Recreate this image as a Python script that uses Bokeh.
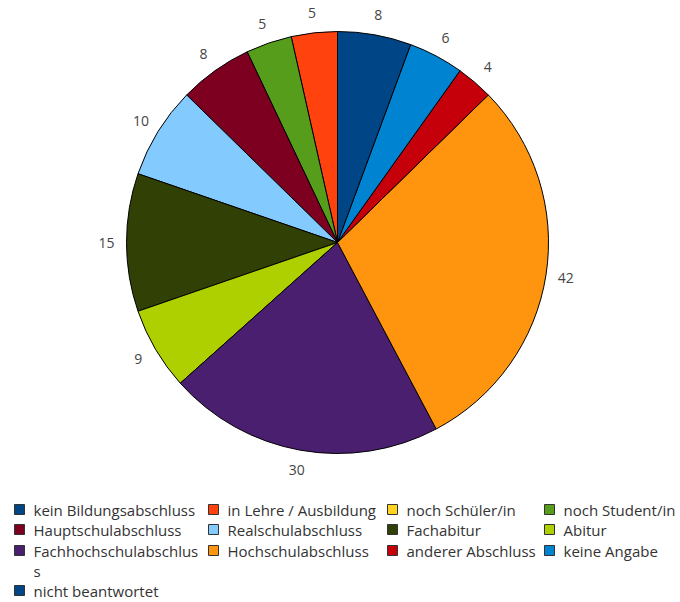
import numpy as np
from bokeh.plotting import figure
from bokeh.models import Range1d, ColumnDataSource
from bokeh.core.properties import value
from bokeh.embed import file_html
from bokeh.resources import INLINE

categories = ["kein Bildungsabschluss", "in Lehre / Ausbildung", "noch Schüler/in", "noch Student/in",
              "Hauptschulabschluss", "Realschulabschluss", "Fachabitur", "Abitur",
              "Fachhochschulabschluss", "Hochschulabschluss", "anderer Abschluss", "keine Angabe",
              "nicht beantwortet"]
counts = [0, 5, 0, 5, 8, 10, 15, 9, 30, 42, 4, 6, 8]
colors = ["#004586", "#ff420e", "#ffd320", "#579d1c", "#7e0021", "#83caff", "#314004",
          "#aecf00", "#4b1f6f", "#ff950e", "#c5000b", "#0084d1", "#004586"]
legend_texts = ["kein Bildungsabschluss", "in Lehre / Ausbildung", "noch Schüler/in", "noch Student/in",
                "Hauptschulabschluss", "Realschulabschluss", "Fachabitur", "Abitur",
                "Fachhochschulabschlus\ns", "Hochschulabschluss", "anderer Abschluss", "keine Angabe",
                "nicht beantwortet"]

FONT = "Open Sans"
W, H = 680, 600
TOP = 602
p = figure(width=W, height=H, output_backend="svg", toolbar_location=None,
           x_range=Range1d(0, W), y_range=Range1d(TOP - H, TOP),
           min_border=0, outline_line_color=None)
p.axis.visible = False
p.grid.visible = False
p.background_fill_color = "white"

# pie
cx, cy, r = 337, TOP - 242, 211
vals = np.array(counts, dtype=float)
total = vals.sum()
cum = np.concatenate([[0], np.cumsum(vals)])
start = np.pi / 2 + cum[:-1] / total * 2 * np.pi
end = np.pi / 2 + cum[1:] / total * 2 * np.pi
mask = vals > 0
src = ColumnDataSource(dict(start=start[mask], end=end[mask], color=np.array(colors)[mask]))
p.wedge(x=cx, y=cy, radius=r, start_angle="start", end_angle="end", direction="anticlock",
        fill_color="color", line_color="black", line_width=1, source=src)

mid = (start + end) / 2
lr = 231
lsrc = ColumnDataSource(dict(x=(cx + lr * np.cos(mid))[mask], y=(cy + lr * np.sin(mid))[mask],
                             t=[str(c) for c, m in zip(counts, mask) if m]))
p.text(x="x", y="y", text="t", source=lsrc, text_align="center", text_baseline="middle",
       text_font=value(FONT), text_font_size="14px", text_color="#444444")

# legend (4 columns)
col_x = [14, 208, 387, 544]
row_y = [509, 529, 550, 590]
sx, sy, tx, ty, tt = [], [], [], [], []
for i, t in enumerate(legend_texts):
    row, col = divmod(i, 4)
    yy = TOP - row_y[row]
    sx.append(col_x[col] + 5)
    sy.append(yy)
    tx.append(col_x[col] + 19)
    ty.append(yy + 10)
    tt.append(t)
p.rect(x=sx, y=sy, width=10, height=10, fill_color=colors, line_color="#333333", line_width=1)
p.text(x=tx, y=ty, text=tt, text_align="left", text_baseline="top", text_line_height=1.04,
       text_font=value(FONT), text_font_size="15px", text_color="#333333")

open("out.html", "w").write(file_html(p, INLINE))
